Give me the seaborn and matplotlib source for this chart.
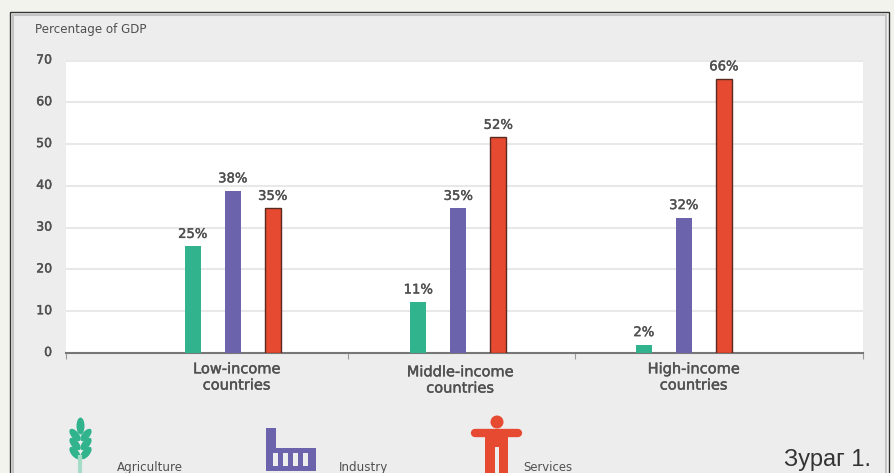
import pandas as pd
import seaborn as sns
import matplotlib.pyplot as plt
import matplotlib.patheffects as pe
from matplotlib.patches import Rectangle, Ellipse, Circle
from matplotlib.transforms import ScaledTranslation

W, H = 895, 473

groups = ['Low-income\ncountries', 'Middle-income\ncountries', 'High-income\ncountries']
sectors = ['Agriculture', 'Industry', 'Services']
agriculture = [25.5, 12.2, 2.0]
industry = [38.8, 34.6, 32.4]
services = [34.6, 51.6, 65.6]
agriculture_labels = ['25%', '11%', '2%']
industry_labels = ['38%', '35%', '32%']
services_labels = ['35%', '52%', '66%']
y_ticks = [0, 10, 20, 30, 40, 50, 60, 70]

GREEN, PURPLE, RED = '#31b48d', '#6c63ad', '#e64a31'
TXT = '#505050'
# the source text is heavier than DejaVu regular, a thin stroke gets close
HEAVY = [pe.withStroke(linewidth=0.3, foreground=TXT)]

df = pd.DataFrame({
    'group': groups * 3,
    'sector': [s for s in sectors for _ in groups],
    'value': agriculture + industry + services,
})

sns.set_theme(style='white')
plt.rcParams['font.family'] = ['DejaVu Sans']

fig = plt.figure(figsize=(W / 100, H / 100), dpi=100, facecolor='#f3f3ee')

# pixel-space layer for the frame and the icons
bg = fig.add_axes([0, 0, 1, 1], zorder=0)
bg.set_xlim(0, W)
bg.set_ylim(H, 0)
bg.axis('off')
bg.add_patch(Rectangle((10.5, 12.5), 878.5, 470, fc='#f3f3ee', ec='#333333', lw=1))
bg.add_patch(Rectangle((13.5, 15.5), 872.5, 470, fc='#ededed', ec='#c4c4c4', lw=1.5))

# wheat
bg.plot([80.5, 80.5], [455, 473], color='#a5dcc8', lw=3, solid_capstyle='butt')
bg.add_patch(Ellipse((80.5, 426), 8, 17, fc=GREEN, ec='none'))
for y in (435, 444, 453):
    bg.add_patch(Ellipse((75, y), 7.5, 15, angle=-40, fc=GREEN, ec='none'))
    bg.add_patch(Ellipse((86, y), 7.5, 15, angle=40, fc=GREEN, ec='none'))

# factory
bg.add_patch(Rectangle((266, 428), 10, 20, fc=PURPLE, ec='none'))
bg.add_patch(Rectangle((266, 448), 50, 23, fc=PURPLE, ec='none'))
for x in (273, 283, 293, 303):
    bg.add_patch(Rectangle((x, 453), 5, 13, fc='#ededed', ec='none'))

# person
bg.add_patch(Circle((497, 422), 6.5, fc=RED, ec='none'))
bg.plot([475, 518], [433, 433], color=RED, lw=6, solid_capstyle='round')
bg.add_patch(Rectangle((485, 430), 23, 43, fc=RED, ec='none'))
bg.add_patch(Rectangle((495, 447), 4.5, 26, fc='#ededed', ec='none'))

bg.text(35, 30, 'Percentage of GDP', fontsize=8.6, color=TXT, va='center')
bg.text(117, 467, 'Agriculture', fontsize=8.6, color=TXT, va='center')
bg.text(339, 467, 'Industry', fontsize=8.6, color=TXT, va='center')
bg.text(523, 467, 'Services', fontsize=8.4, color=TXT, va='center')
bg.text(784, 460, 'Зураг 1.', fontsize=17, color='#333333', va='center',
        family='Liberation Sans')

ax = fig.add_axes([66 / W, 1 - 353 / H, (863 - 66) / W, (353 - 60.5) / H], zorder=1)
sns.barplot(data=df, x='group', y='value', hue='sector', hue_order=sectors,
            palette=[GREEN, PURPLE, RED], width=0.532, gap=0.6, saturation=1,
            linewidth=0, legend=False, ax=ax, zorder=3)

ax.set_ylim(0, 70)
ax.set_xlim(-0.74, 2.794)
ax.set_xlabel('')
ax.set_ylabel('')
ax.set_facecolor('white')
ax.set_yticks(y_ticks)
ax.grid(axis='y', color='#e8e8e8', lw=1.5, zorder=0)
ax.set_axisbelow(True)
for s in ('top', 'left', 'right'):
    ax.spines[s].set_visible(False)
ax.spines['bottom'].set_color('#777777')
ax.spines['bottom'].set_linewidth(1.5)

ax.tick_params(axis='y', length=0, pad=10, labelsize=9, labelcolor=TXT)
ax.tick_params(axis='x', which='major', length=0, pad=6, labelsize=10.5, labelcolor=TXT)
ax.tick_params(axis='x', which='minor', bottom=True, length=4, width=0.8, color='#999999')
ax.set_xticks([-0.74, 0.51, 1.517, 2.794], minor=True)

# the group labels sit a bit off the bar centres in the source
offsets = [(4, 0), (2, -3), (10, 0)]
for lab, (dx, dy) in zip(ax.get_xticklabels(), offsets):
    lab.set_transform(lab.get_transform() + ScaledTranslation(dx / 100, dy / 100, fig.dpi_scale_trans))
    lab.set_linespacing(1.1)
    lab.set_path_effects(HEAVY)
for lab in ax.get_yticklabels():
    lab.set_transform(lab.get_transform() + ScaledTranslation(0, 2 / 100, fig.dpi_scale_trans))
    lab.set_path_effects(HEAVY)

for bar in ax.containers[2]:  # only the services bars carry a dark outline
    bar.set_edgecolor('#5a2a20')
    bar.set_linewidth(1)

for cont, labels in zip(ax.containers, [agriculture_labels, industry_labels, services_labels]):
    for t in ax.bar_label(cont, labels=labels, padding=4, fontsize=9.5, color=TXT, zorder=5):
        t.set_path_effects(HEAVY)

fig.savefig('out.png', dpi=100, facecolor=fig.get_facecolor())
